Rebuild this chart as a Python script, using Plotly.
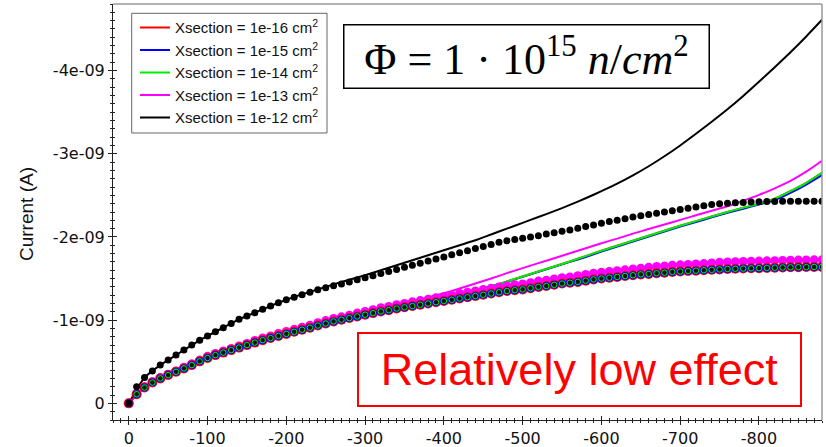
import plotly.graph_objects as go

# ---- data (voltage in V, current in nA; plotted as A) ----
v_dots = [0, -10, -20, -30, -40, -50, -60, -70, -80, -90, -100, -110, -120, -130, -140, -150, -160, -170, -180, -190,
          -200, -210, -220, -230, -240, -250, -260, -270, -280, -290, -300, -310, -320, -330, -340, -350, -360, -370, -380, -390,
          -400, -410, -420, -430, -440, -450, -460, -470, -480, -490, -500, -510, -520, -530, -540, -550, -560, -570, -580, -590,
          -600, -610, -620, -630, -640, -650, -660, -670, -680, -690, -700, -710, -720, -730, -740, -750, -760, -770, -780, -790,
          -800, -810, -820, -830, -840, -850, -860, -870, -880]

# low-cross-section measured points (1e-16 ... 1e-14 overlap)
dots_low_nA = [0.00, -0.11, -0.19, -0.25, -0.30, -0.34, -0.38, -0.42, -0.46, -0.505, -0.545, -0.58, -0.61, -0.64, -0.67, -0.70, -0.73, -0.76, -0.785, -0.81,
               -0.835, -0.86, -0.885, -0.91, -0.935, -0.96, -0.985, -1.005, -1.025, -1.045, -1.065, -1.085, -1.105, -1.12, -1.14, -1.155, -1.17, -1.185, -1.20, -1.215,
               -1.23, -1.245, -1.26, -1.275, -1.29, -1.305, -1.32, -1.335, -1.35, -1.36, -1.37, -1.385, -1.40, -1.41, -1.425, -1.44, -1.45, -1.46, -1.475, -1.49,
               -1.50, -1.51, -1.52, -1.53, -1.54, -1.55, -1.555, -1.565, -1.57, -1.58, -1.585, -1.59, -1.595, -1.60, -1.605, -1.61, -1.615, -1.618, -1.62, -1.623,
               -1.625, -1.628, -1.63, -1.633, -1.635, -1.637, -1.638, -1.64, -1.64]

dots_1e13_nA = [0.00, -0.12, -0.20, -0.26, -0.31, -0.35, -0.39, -0.435, -0.475, -0.52, -0.565, -0.60, -0.63, -0.66, -0.69, -0.72, -0.755, -0.785, -0.81, -0.84,
                -0.865, -0.89, -0.915, -0.94, -0.97, -0.995, -1.02, -1.04, -1.06, -1.085, -1.105, -1.125, -1.15, -1.165, -1.185, -1.20, -1.22, -1.235, -1.25, -1.27,
                -1.285, -1.30, -1.32, -1.335, -1.35, -1.37, -1.385, -1.40, -1.415, -1.425, -1.435, -1.45, -1.47, -1.48, -1.495, -1.51, -1.52, -1.535, -1.55, -1.565,
                -1.575, -1.585, -1.595, -1.605, -1.615, -1.625, -1.635, -1.645, -1.65, -1.66, -1.665, -1.67, -1.675, -1.68, -1.688, -1.695, -1.70, -1.703, -1.705, -1.708,
                -1.71, -1.713, -1.715, -1.718, -1.72, -1.722, -1.723, -1.725, -1.725]

dots_1e12_nA = [0.00, -0.20, -0.31, -0.39, -0.46, -0.52, -0.58, -0.64, -0.70, -0.76, -0.81, -0.86, -0.91, -0.96, -1.01, -1.05, -1.09, -1.13, -1.17, -1.21,
                -1.245, -1.275, -1.305, -1.335, -1.365, -1.39, -1.415, -1.435, -1.46, -1.485, -1.51, -1.535, -1.56, -1.585, -1.61, -1.635, -1.66, -1.685, -1.71, -1.735,
                -1.76, -1.785, -1.81, -1.835, -1.86, -1.885, -1.91, -1.935, -1.955, -1.97, -1.985, -2.00, -2.015, -2.035, -2.05, -2.07, -2.085, -2.105, -2.125, -2.145,
                -2.165, -2.185, -2.20, -2.22, -2.24, -2.255, -2.27, -2.285, -2.30, -2.315, -2.33, -2.345, -2.36, -2.375, -2.39, -2.40, -2.405, -2.41, -2.415, -2.42,
                -2.423, -2.425, -2.427, -2.428, -2.429, -2.43, -2.43, -2.43, -2.43]

v_lines = [0, -20, -40, -60, -80, -100, -120, -140, -160, -180, -200, -220, -240, -260, -280, -300, -320, -340, -360, -380,
           -400, -420, -440, -460, -480, -500, -520, -540, -560, -580, -600, -620, -640, -660, -680, -700, -720, -740, -760, -780,
           -800, -820, -840, -860, -880]

line_1e16_nA = [0.00, -0.19, -0.30, -0.38, -0.46, -0.545, -0.61, -0.67, -0.73, -0.785, -0.835, -0.885, -0.935, -0.985, -1.025, -1.07, -1.11, -1.15, -1.185, -1.225,
                -1.265, -1.31, -1.355, -1.405, -1.465, -1.525, -1.585, -1.645, -1.705, -1.77, -1.835, -1.895, -1.955, -2.015, -2.075, -2.135, -2.19, -2.245, -2.30, -2.35,
                -2.40, -2.46, -2.55, -2.65, -2.77]
line_1e15_nA = [0.00, -0.19, -0.30, -0.38, -0.46, -0.545, -0.61, -0.67, -0.73, -0.785, -0.835, -0.885, -0.935, -0.985, -1.025, -1.07, -1.11, -1.15, -1.185, -1.225,
                -1.265, -1.31, -1.355, -1.405, -1.46, -1.52, -1.58, -1.64, -1.70, -1.76, -1.825, -1.885, -1.945, -2.005, -2.065, -2.125, -2.18, -2.235, -2.29, -2.34,
                -2.39, -2.445, -2.53, -2.63, -2.745]
line_1e14_nA = [0.00, -0.19, -0.30, -0.38, -0.46, -0.545, -0.61, -0.67, -0.73, -0.785, -0.835, -0.885, -0.935, -0.985, -1.025, -1.07, -1.11, -1.15, -1.185, -1.225,
                -1.265, -1.31, -1.355, -1.405, -1.465, -1.525, -1.585, -1.645, -1.705, -1.77, -1.835, -1.895, -1.955, -2.015, -2.075, -2.135, -2.19, -2.245, -2.30, -2.35,
                -2.40, -2.46, -2.55, -2.65, -2.77]
line_1e13_nA = [0.00, -0.20, -0.31, -0.39, -0.475, -0.565, -0.63, -0.69, -0.755, -0.81, -0.865, -0.915, -0.97, -1.02, -1.06, -1.10, -1.14, -1.18, -1.225, -1.275,
                -1.325, -1.38, -1.44, -1.50, -1.565, -1.625, -1.685, -1.745, -1.805, -1.865, -1.925, -1.98, -2.04, -2.095, -2.15, -2.205, -2.26, -2.315, -2.37, -2.435,
                -2.505, -2.585, -2.675, -2.785, -2.915]
line_1e12_nA = [0.00, -0.31, -0.46, -0.58, -0.70, -0.81, -0.91, -1.01, -1.09, -1.17, -1.245, -1.31, -1.37, -1.43, -1.485, -1.54, -1.60, -1.66, -1.72, -1.78,
                -1.84, -1.90, -1.96, -2.03, -2.10, -2.17, -2.24, -2.31, -2.385, -2.465, -2.55, -2.64, -2.74, -2.85, -2.97, -3.10, -3.24, -3.385, -3.535, -3.695,
                -3.865, -4.04, -4.22, -4.41, -4.61]

legend_names = ["Xsection = 1e-16 cm<sup>2</sup>", "Xsection = 1e-15 cm<sup>2</sup>", "Xsection = 1e-14 cm<sup>2</sup>",
                "Xsection = 1e-13 cm<sup>2</sup>", "Xsection = 1e-12 cm<sup>2</sup>"]
x_tickvals = [0, -100, -200, -300, -400, -500, -600, -700, -800]
x_ticktext = ["0", "-100", "-200", "-300", "-400", "-500", "-600", "-700", "-800"]
y_tickvals = [0, -1e-9, -2e-9, -3e-9, -4e-9]
y_ticktext = ["0", "-1e-09", "-2e-09", "-3e-09", "-4e-09"]

NA = 1e-9
def amps(lst):
    return [v * NA for v in lst]

RED, BLUE, GREEN, MAG, BLK = "#ff0000", "#0000ff", "#00ee00", "#ff00ff", "#000000"

fig = go.Figure()
line_sets = [(line_1e16_nA, RED), (line_1e15_nA, BLUE), (line_1e14_nA, GREEN), (line_1e13_nA, MAG), (line_1e12_nA, BLK)]
for (vals, col), name in zip(line_sets, legend_names):
    fig.add_trace(go.Scatter(x=v_lines, y=amps(vals), mode="lines", name=name,
                             line=dict(color=col, width=2, shape="spline", smoothing=0.6)))

# point series (not in legend)
fig.add_trace(go.Scatter(x=v_dots, y=amps(dots_1e13_nA), mode="markers", showlegend=False,
                         marker=dict(color=MAG, size=9, line=dict(width=0))))
fig.add_trace(go.Scatter(x=v_dots, y=amps(dots_low_nA), mode="markers", showlegend=False,
                         marker=dict(color=RED, size=10, line=dict(width=0))))
fig.add_trace(go.Scatter(x=v_dots, y=amps(dots_low_nA), mode="markers", showlegend=False,
                         marker=dict(color=BLUE, size=8, line=dict(width=0))))
fig.add_trace(go.Scatter(x=v_dots, y=amps(dots_low_nA), mode="markers", showlegend=False,
                         marker=dict(color="#111111", size=5.5, line=dict(color=GREEN, width=1))))
fig.add_trace(go.Scatter(x=v_dots, y=amps(dots_1e12_nA), mode="markers", showlegend=False,
                         marker=dict(color=BLK, size=7, line=dict(width=0))))
# overlay axis for inward ticks
fig.add_trace(go.Scatter(x=[0], y=[0], xaxis="x2", yaxis="y2", mode="markers",
                         marker=dict(opacity=0), showlegend=False, hoverinfo="skip"))

FONT = "Liberation Sans, Arial, sans-serif"
TICKFONT = dict(family="DejaVu Sans, sans-serif", size=16, color="#111111")
xr = [20, -880]
yr = [0.2e-9, -4.8e-9]
axcol = "#222222"
common_x = dict(range=xr, tickmode="array", tickvals=x_tickvals, showgrid=False, zeroline=False, automargin=False,
                showline=True, linecolor=axcol, linewidth=1, tickcolor=axcol, ticklen=4, tickwidth=1)
common_y = dict(range=yr, tickmode="array", tickvals=y_tickvals, showgrid=False, zeroline=False, automargin=False,
                showline=True, linecolor=axcol, linewidth=1, tickcolor=axcol, ticklen=4, tickwidth=1)

# pixel helpers for paper placement (plot area 113..822 x, 4..420 y)
L, R, T, B = 113, 822, 4, 420
def px(x):
    return (x - L) / (R - L)
def py(y):
    return 1 - (y - T) / (B - T)

fig.update_layout(
    width=826, height=447,
    margin=dict(l=L, r=826 - R, t=T, b=447 - B),
    paper_bgcolor="white", plot_bgcolor="white",
    font=dict(family=FONT, size=16, color="#111111"),
    xaxis=dict(**common_x, ticktext=x_ticktext, ticks="outside", tickfont=TICKFONT,
               minor=dict(dtick=10, tick0=0, ticks="outside", ticklen=2, tickcolor=axcol)),
    yaxis=dict(**common_y, ticktext=y_ticktext, ticks="outside", tickfont=TICKFONT,
               minor=dict(dtick=1e-10, tick0=0, ticks="outside", ticklen=2, tickcolor=axcol)),
    xaxis2=dict(**common_x, overlaying="x", side="bottom", ticks="inside", showticklabels=False,
                minor=dict(dtick=10, tick0=0, ticks="inside", ticklen=2, tickcolor=axcol)),
    yaxis2=dict(**common_y, overlaying="y", side="left", ticks="inside", showticklabels=False,
                minor=dict(dtick=1e-10, tick0=0, ticks="inside", ticklen=2, tickcolor=axcol)),
    legend=dict(x=px(135), y=py(11.3), xanchor="left", yanchor="top", bgcolor="rgba(0,0,0,0)",
                borderwidth=0, font=dict(size=15, family=FONT, color="#111111"),
                tracegroupgap=0, itemwidth=30),
    showlegend=True,
    shapes=[
        dict(type="line", xref="paper", yref="paper", x0=0, x1=1, y0=1, y1=1, line=dict(color="#999999", width=1.5)),
        dict(type="line", xref="paper", yref="paper", x0=1, x1=1, y0=0, y1=1, line=dict(color="#999999", width=1.5)),
        dict(type="rect", xref="paper", yref="paper", x0=px(131.7), x1=px(327), y0=py(133), y1=py(13.3),
             line=dict(color="#666666", width=1), fillcolor="white", layer="above"),
    ],
    annotations=[
        dict(xref="paper", yref="paper", x=px(26), y=py(214), xanchor="center", yanchor="middle",
             text="Current (A)", textangle=-90, showarrow=False,
             font=dict(family=FONT, size=19, color="#111111")),
        dict(xref="paper", yref="paper", x=px(526.3), y=py(56.5), xanchor="center", yanchor="middle",
             text="Φ = 1 · 10<sup>15</sup> <i>n</i>/<i>cm</i><sup>2</sup>", showarrow=False,
             font=dict(family="Liberation Serif, DejaVu Serif, serif", size=44, color="black"),
             bordercolor="black", borderwidth=1.5, borderpad=0, width=364, height=62, bgcolor="white"),
        dict(xref="paper", yref="paper", x=px(579), y=py(369), xanchor="center", yanchor="middle",
             text="Relatively low effect", showarrow=False,
             font=dict(family=FONT, size=45, color="#ff0000"),
             bordercolor="#ff0000", borderwidth=2, borderpad=0, width=441, height=71, bgcolor="white"),
    ],
)

fig.write_html("out.html", config={"displayModeBar": False},
               post_script="document.body.style.margin='0px';")
